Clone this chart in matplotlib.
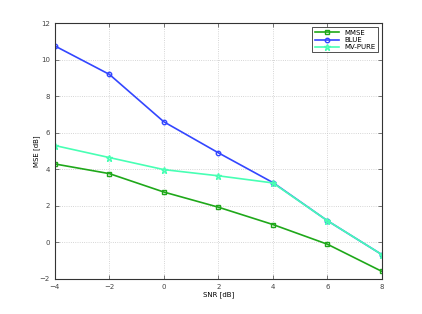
import numpy as np
import matplotlib.pyplot as plt

snr = [-4, -2, 0, 2, 4, 6, 8]
mmse = [4.29, 3.76, 2.75, 1.92, 0.97, -0.11, -1.6]
blue = [10.76, 9.2, 6.6, 4.9, 3.27, 1.18, -0.68]
mvpure = [5.3, 4.64, 3.98, 3.64, 3.25, 1.18, -0.68]

fig = plt.figure(figsize=(4.22, 3.14), dpi=100)
ax = fig.add_axes([0.13, 0.1124, 0.775, 0.8134])

ax.plot(snr, mmse, color='#1fa81a', marker='s', ms=3.2, lw=1.2, mfc='none', mew=1.0, label='MMSE')
ax.plot(snr, blue, color='#3346ff', marker='o', ms=3.2, lw=1.2, mfc='none', mew=1.0, label='BLUE')
ax.plot(snr, mvpure, color='#48ffb4', marker='*', ms=4.5, lw=1.2, mfc='none', mew=1.0, label='MV-PURE')

ax.set_xlim(-4, 8)
ax.set_ylim(-2, 12)
ax.set_xticks(np.arange(-4, 9, 2))
ax.set_yticks(np.arange(-2, 13, 2))
ax.set_xticklabels(['\u22124', '\u22122', '0', '2', '4', '6', '8'])
ax.set_yticklabels(['\u22122', '0', '2', '4', '6', '8', '10', '12'])
ax.grid(True, linestyle=':', color='#c8c8c8', lw=0.6)
ax.tick_params(direction='in', labelsize=5, colors='#444444', length=3, width=0.5,
               top=True, right=True)
for s in ax.spines.values():
    s.set_linewidth(0.8)
    s.set_color('#333333')
ax.set_xlabel('SNR [dB]', fontsize=5, labelpad=1)
ax.set_ylabel('MSE [dB]', fontsize=5, labelpad=0)

leg = ax.legend(loc='upper right', fontsize=5, handlelength=3.5, fancybox=False,
                framealpha=1, edgecolor='#333333', borderpad=0.3, labelspacing=0.2,
                borderaxespad=0.6)
leg.get_frame().set_linewidth(0.6)

fig.savefig('out.png', dpi=100)
